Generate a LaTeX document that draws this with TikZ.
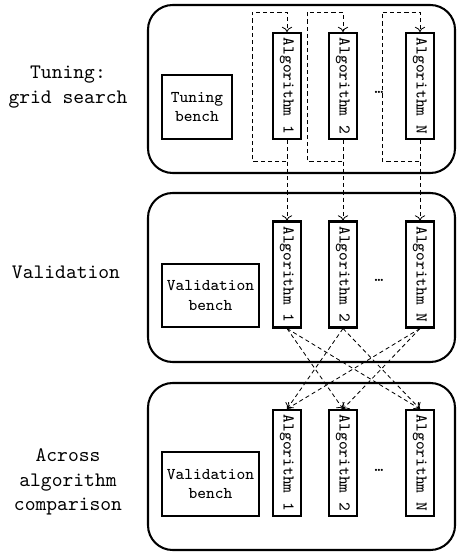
\documentclass[tikz,border=0pt]{standalone}
\usepackage{tikz}
\usetikzlibrary{arrows.meta}

\tikzset{
  stage/.style={draw, line width=1pt, rounded corners=12pt},
  alg/.style={draw, line width=1pt, inner sep=0pt, minimum width=14pt, minimum height=51.5pt, font=\ttfamily\footnotesize},
  bench/.style={draw, line width=1pt, align=center, inner sep=0pt, minimum height=31pt, font=\ttfamily\footnotesize},
  phase/.style={align=center, font=\ttfamily},
  flow/.style={dash pattern=on 2pt off 1.5pt, line width=0.4pt, -{To[length=2.5pt,width=5pt]}},
}

\begin{document}
\begin{tikzpicture}[x=0.486pt, y=-0.486pt]

    \useasboundingbox (0,0) rectangle (457,554);

    % the three stages
    \draw[stage] (148,5) rectangle (455,173);
    \draw[stage] (148,193) rectangle (455,362);
    \draw[stage] (148,383) rectangle (455,550);

    \node[phase] (ltune) at (68,87) {Tuning:\\grid search};
    \node[phase] (lval) at (66,272) {Validation};
    \node[phase] (lcmp) at (68,482) {Across\\algorithm\\comparison};

    \node[bench, minimum width=34pt] (tb) at (197,107) {Tuning\\bench};
    \node[bench, minimum width=47pt] (vb) at (210.5,295.5) {Validation\\bench};
    \node[bench, minimum width=47pt] (cb) at (210.5,484) {Validation\\bench};

    \foreach \id/\x in {1/287, 2/343, N/420} {
      \node[alg] (t\id) at (\x,86) {\rotatebox{-90}{Algorithm \id}};
      \node[alg] (v\id) at (\x,274.5) {\rotatebox{-90}{Algorithm \id}};
      \node[alg] (c\id) at (\x,463) {\rotatebox{-90}{Algorithm \id}};
    }

    \node[font=\ttfamily\footnotesize] (tdots) at (379,92) {\ldots};
    \node[font=\ttfamily\footnotesize] (vdots) at (379,280) {\ldots};
    \node[font=\ttfamily\footnotesize] (cdots) at (379,470) {\ldots};

    % grid search loops
    \foreach \id/\x/\off in {1/287/35, 2/343/36, N/420/38}
      \draw[flow] (t\id.south) |- ({\x-\off},161) |- (\x,12) -- (t\id.north);

    \foreach \id in {1,2,N}
      \draw[flow] (t\id.south) -- (v\id.north);

    % comparison across algorithms
    \foreach \a/\b in {1/2, 1/N, 2/1, 2/N, N/1, N/2}
      \draw[flow] (v\a.south) -- (c\b.north);

\end{tikzpicture}
\end{document}
